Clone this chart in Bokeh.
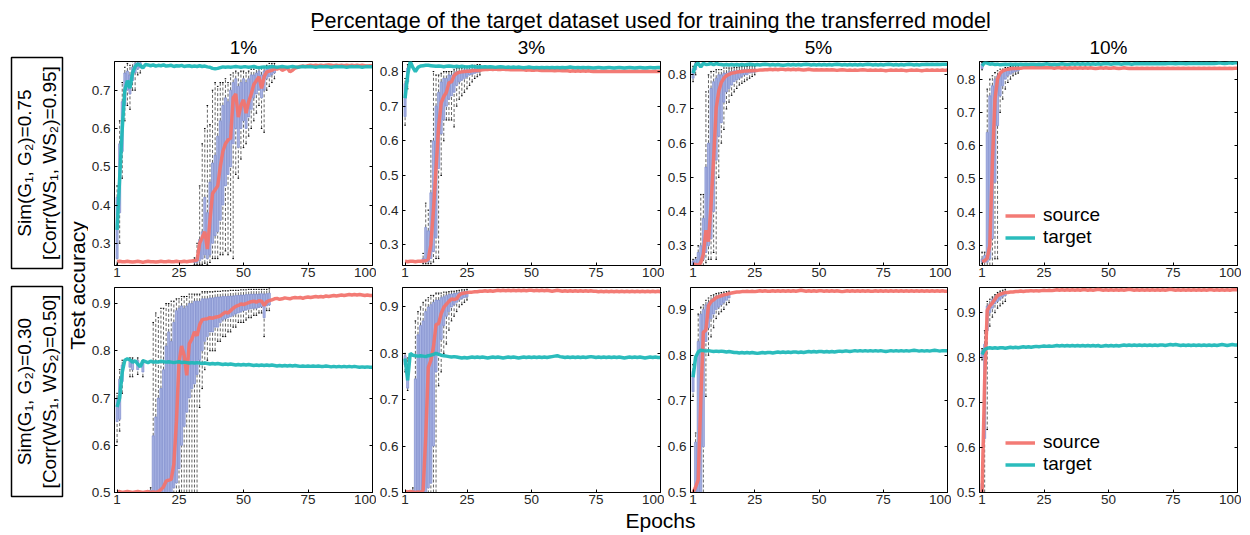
import math
from bokeh.plotting import figure
from bokeh.layouts import row, column
from bokeh.models import Range1d, LinearAxis, FixedTicker, CustomJSTickFormatter, Legend, LegendItem
from bokeh.core.properties import value
from bokeh.embed import file_html
from bokeh.resources import INLINE

# ---------------- data ----------------
EPOCHS = list(range(1, 101))
X_TICKS = [1, 25, 50, 75, 100]
COL_TITLES = ["1%", "3%", "5%", "10%"]
TITLE = "Percentage of the target dataset used for training the transferred model"
ROW_LABELS = ["Sim(G\u2081, G\u2082)=0.75\n[Corr(WS\u2081, WS\u2082)=0.95]",
              "Sim(G\u2081, G\u2082)=0.30\n[Corr(WS\u2081, WS\u2082)=0.50]"]
Y_LABEL = "Test accuracy"
X_LABEL = "Epochs"
SERIES_NAMES = ["source", "target"]

R1_YLIMS = [(0.242, 0.775), (0.240, 0.829), (0.242, 0.839), (0.240, 0.853)]
R2_YLIMS = [(0.500, 0.934), (0.500, 0.942), (0.500, 0.948), (0.500, 0.956)]
R1_YTICKS = [[0.3, 0.4, 0.5, 0.6, 0.7], [0.3, 0.4, 0.5, 0.6, 0.7, 0.8],
             [0.3, 0.4, 0.5, 0.6, 0.7, 0.8], [0.3, 0.4, 0.5, 0.6, 0.7, 0.8]]
R2_YTICKS = [[0.5, 0.6, 0.7, 0.8, 0.9]] * 4

# ---- row 1 (Sim 0.75), 1% ----
R1C1_SRC = [0.252, 0.253, 0.252, 0.252, 0.253, 0.252, 0.251, 0.252, 0.253, 0.252,
            0.250, 0.252, 0.253, 0.252, 0.252, 0.251, 0.252, 0.253, 0.252, 0.252,
            0.253, 0.252, 0.252, 0.253, 0.252, 0.252, 0.253, 0.252, 0.253, 0.254,
            0.255, 0.256, 0.300, 0.315, 0.330, 0.285, 0.360, 0.430, 0.440, 0.450,
            0.500, 0.540, 0.560, 0.570, 0.575, 0.680, 0.690, 0.630, 0.660, 0.675,
            0.640, 0.670, 0.690, 0.715, 0.725, 0.735, 0.705, 0.735, 0.748, 0.750,
            0.752, 0.757, 0.755, 0.758, 0.752, 0.755, 0.758, 0.748, 0.752, 0.758,
            0.760, 0.762, 0.763, 0.762, 0.764, 0.765, 0.764, 0.765, 0.764, 0.765,
            0.764, 0.765, 0.766, 0.765, 0.764, 0.765, 0.764, 0.765, 0.764, 0.765,
            0.764, 0.765, 0.764, 0.765, 0.764, 0.765, 0.764, 0.763, 0.764, 0.764]
R1C1_TGT = [0.335, 0.470, 0.600, 0.700, 0.725, 0.705, 0.745, 0.762, 0.768, 0.765,
            0.758, 0.767, 0.766, 0.764, 0.766, 0.763, 0.765, 0.764, 0.766, 0.763,
            0.764, 0.765, 0.762, 0.764, 0.763, 0.765, 0.762, 0.763, 0.764, 0.762,
            0.763, 0.762, 0.764, 0.762, 0.763, 0.761, 0.760, 0.757, 0.756, 0.757,
            0.759, 0.761, 0.760, 0.761, 0.760, 0.761, 0.762, 0.761, 0.760, 0.761,
            0.761, 0.760, 0.761, 0.762, 0.760, 0.759, 0.760, 0.761, 0.760, 0.761,
            0.762, 0.761, 0.760, 0.761, 0.762, 0.761, 0.760, 0.761, 0.762, 0.761,
            0.760, 0.761, 0.762, 0.761, 0.761, 0.762, 0.761, 0.760, 0.761, 0.762,
            0.761, 0.762, 0.761, 0.760, 0.761, 0.762, 0.761, 0.762, 0.761, 0.760,
            0.761, 0.762, 0.761, 0.762, 0.761, 0.760, 0.761, 0.762, 0.761, 0.761]
# (epoch, q1, q3, whisker low, whisker high)
R1C1_SRC_BOX = [(31, 0.250, 0.256, 0.245, 0.262), (32, 0.250, 0.262, 0.245, 0.300),
                (33, 0.255, 0.310, 0.245, 0.450), (34, 0.260, 0.330, 0.245, 0.560),
                (35, 0.270, 0.420, 0.248, 0.600), (36, 0.260, 0.380, 0.245, 0.660),
                (37, 0.270, 0.460, 0.250, 0.610), (38, 0.300, 0.510, 0.260, 0.700),
                (39, 0.320, 0.530, 0.260, 0.720), (40, 0.330, 0.580, 0.260, 0.710),
                (41, 0.360, 0.620, 0.270, 0.720), (42, 0.400, 0.660, 0.270, 0.720),
                (43, 0.450, 0.680, 0.280, 0.730), (44, 0.480, 0.670, 0.270, 0.720),
                (45, 0.500, 0.700, 0.280, 0.740), (46, 0.560, 0.720, 0.260, 0.745),
                (47, 0.600, 0.730, 0.480, 0.750), (48, 0.550, 0.710, 0.470, 0.745),
                (49, 0.600, 0.720, 0.520, 0.750), (50, 0.620, 0.730, 0.550, 0.750),
                (51, 0.600, 0.720, 0.560, 0.745), (52, 0.630, 0.730, 0.580, 0.750),
                (53, 0.650, 0.740, 0.600, 0.755), (54, 0.680, 0.740, 0.620, 0.755),
                (55, 0.690, 0.745, 0.640, 0.760), (56, 0.700, 0.750, 0.660, 0.760),
                (57, 0.680, 0.740, 0.600, 0.760), (58, 0.700, 0.750, 0.590, 0.760),
                (59, 0.730, 0.755, 0.700, 0.765), (60, 0.735, 0.758, 0.710, 0.770),
                (61, 0.740, 0.760, 0.720, 0.770), (62, 0.745, 0.762, 0.730, 0.770)]
R1C1_TGT_BOX = [(1, 0.260, 0.420, 0.245, 0.450), (2, 0.380, 0.560, 0.300, 0.620),
                (3, 0.540, 0.670, 0.470, 0.720), (4, 0.660, 0.745, 0.620, 0.760),
                (5, 0.700, 0.750, 0.660, 0.770), (6, 0.690, 0.740, 0.650, 0.765),
                (7, 0.725, 0.760, 0.700, 0.775), (8, 0.745, 0.770, 0.700, 0.775),
                (9, 0.755, 0.772, 0.740, 0.775), (10, 0.758, 0.772, 0.745, 0.775)]

# ---- row 1, 3% ----
R1C2_SRC = [0.252, 0.251, 0.252, 0.252, 0.251, 0.252, 0.252, 0.253, 0.254, 0.258,
            0.300, 0.400, 0.520, 0.640, 0.710, 0.728, 0.740, 0.768, 0.770, 0.788,
            0.795, 0.798, 0.799, 0.800, 0.801, 0.801, 0.802, 0.803, 0.803, 0.804,
            0.805, 0.806, 0.806, 0.807, 0.806, 0.807, 0.806, 0.806, 0.807, 0.806,
            0.806, 0.805, 0.806, 0.805, 0.806, 0.805, 0.805, 0.804, 0.805, 0.804,
            0.804, 0.805, 0.804, 0.803, 0.804, 0.803, 0.804, 0.803, 0.802, 0.803,
            0.803, 0.802, 0.803, 0.802, 0.801, 0.802, 0.801, 0.802, 0.801, 0.802,
            0.801, 0.802, 0.801, 0.800, 0.801, 0.800, 0.801, 0.800, 0.801, 0.800,
            0.800, 0.801, 0.800, 0.801, 0.800, 0.801, 0.800, 0.801, 0.800, 0.800,
            0.801, 0.800, 0.801, 0.800, 0.801, 0.800, 0.800, 0.801, 0.800, 0.801]
R1C2_TGT = [0.723, 0.790, 0.829, 0.812, 0.800, 0.812, 0.816, 0.817, 0.818, 0.818,
            0.817, 0.816, 0.815, 0.816, 0.815, 0.814, 0.815, 0.816, 0.815, 0.814,
            0.815, 0.814, 0.815, 0.814, 0.813, 0.814, 0.815, 0.814, 0.813, 0.814,
            0.813, 0.814, 0.813, 0.814, 0.813, 0.812, 0.813, 0.814, 0.813, 0.812,
            0.813, 0.812, 0.813, 0.812, 0.813, 0.812, 0.811, 0.812, 0.813, 0.812,
            0.811, 0.812, 0.811, 0.812, 0.811, 0.812, 0.811, 0.812, 0.811, 0.812,
            0.811, 0.812, 0.811, 0.812, 0.813, 0.812, 0.811, 0.812, 0.811, 0.812,
            0.811, 0.812, 0.811, 0.810, 0.811, 0.812, 0.811, 0.810, 0.811, 0.812,
            0.811, 0.810, 0.811, 0.812, 0.811, 0.810, 0.811, 0.812, 0.811, 0.810,
            0.811, 0.812, 0.811, 0.810, 0.811, 0.812, 0.811, 0.811, 0.812, 0.812]
R1C2_SRC_BOX = [(8, 0.250, 0.260, 0.245, 0.275), (9, 0.250, 0.350, 0.245, 0.420),
                (10, 0.250, 0.340, 0.245, 0.400), (11, 0.260, 0.450, 0.245, 0.600),
                (12, 0.280, 0.600, 0.250, 0.800), (13, 0.320, 0.700, 0.260, 0.790),
                (14, 0.520, 0.740, 0.260, 0.790), (15, 0.620, 0.770, 0.500, 0.795),
                (16, 0.660, 0.780, 0.600, 0.800), (17, 0.700, 0.780, 0.660, 0.800),
                (18, 0.720, 0.790, 0.660, 0.800), (19, 0.730, 0.790, 0.660, 0.800),
                (20, 0.740, 0.795, 0.640, 0.805), (21, 0.760, 0.800, 0.700, 0.810),
                (22, 0.770, 0.800, 0.720, 0.810), (23, 0.775, 0.800, 0.730, 0.810),
                (24, 0.780, 0.805, 0.740, 0.815), (25, 0.785, 0.805, 0.750, 0.815),
                (26, 0.790, 0.806, 0.760, 0.815), (27, 0.792, 0.807, 0.770, 0.818),
                (28, 0.795, 0.808, 0.780, 0.818), (29, 0.797, 0.808, 0.785, 0.820),
                (30, 0.800, 0.810, 0.790, 0.820)]
R1C2_TGT_BOX = [(1, 0.670, 0.765, 0.645, 0.780), (2, 0.770, 0.810, 0.750, 0.820)]

# ---- row 1, 5% ----
R1C3_SRC = [0.246, 0.245, 0.243, 0.250, 0.275, 0.345, 0.312, 0.420, 0.556, 0.703,
            0.752, 0.778, 0.790, 0.798, 0.801, 0.805, 0.806, 0.808, 0.809, 0.810,
            0.811, 0.811, 0.812, 0.812, 0.813, 0.813, 0.814, 0.814, 0.815, 0.815,
            0.816, 0.815, 0.816, 0.815, 0.816, 0.816, 0.815, 0.816, 0.815, 0.816,
            0.815, 0.816, 0.815, 0.814, 0.815, 0.816, 0.815, 0.814, 0.815, 0.814,
            0.815, 0.814, 0.815, 0.814, 0.815, 0.814, 0.813, 0.814, 0.815, 0.814,
            0.813, 0.814, 0.813, 0.814, 0.813, 0.814, 0.815, 0.814, 0.813, 0.814,
            0.813, 0.814, 0.813, 0.814, 0.813, 0.812, 0.813, 0.814, 0.813, 0.814,
            0.813, 0.814, 0.813, 0.812, 0.813, 0.814, 0.813, 0.814, 0.813, 0.812,
            0.813, 0.814, 0.813, 0.814, 0.813, 0.814, 0.813, 0.814, 0.813, 0.814]
R1C3_TGT = [0.805, 0.829, 0.834, 0.823, 0.834, 0.830, 0.831, 0.833, 0.830, 0.833,
            0.831, 0.830, 0.829, 0.830, 0.829, 0.830, 0.829, 0.830, 0.829, 0.830,
            0.829, 0.830, 0.831, 0.830, 0.829, 0.830, 0.829, 0.830, 0.831, 0.830,
            0.829, 0.830, 0.829, 0.830, 0.829, 0.828, 0.829, 0.830, 0.829, 0.830,
            0.829, 0.830, 0.829, 0.830, 0.831, 0.830, 0.829, 0.830, 0.829, 0.830,
            0.829, 0.830, 0.829, 0.830, 0.829, 0.830, 0.831, 0.830, 0.829, 0.830,
            0.829, 0.830, 0.829, 0.830, 0.829, 0.830, 0.829, 0.830, 0.831, 0.830,
            0.829, 0.830, 0.829, 0.830, 0.829, 0.830, 0.831, 0.830, 0.829, 0.830,
            0.829, 0.830, 0.829, 0.830, 0.831, 0.830, 0.829, 0.830, 0.829, 0.830,
            0.830, 0.831, 0.830, 0.831, 0.830, 0.831, 0.830, 0.831, 0.831, 0.831]
R1C3_SRC_BOX = [(1, 0.243, 0.255, 0.240, 0.260), (2, 0.243, 0.260, 0.240, 0.265),
                (3, 0.240, 0.280, 0.240, 0.300), (4, 0.250, 0.300, 0.240, 0.450),
                (5, 0.260, 0.380, 0.240, 0.450), (6, 0.280, 0.530, 0.250, 0.750),
                (7, 0.300, 0.600, 0.260, 0.800), (8, 0.320, 0.760, 0.260, 0.810),
                (9, 0.400, 0.780, 0.280, 0.810), (10, 0.550, 0.790, 0.260, 0.815),
                (11, 0.620, 0.800, 0.500, 0.815), (12, 0.660, 0.800, 0.600, 0.815),
                (13, 0.720, 0.805, 0.640, 0.820), (14, 0.750, 0.805, 0.700, 0.820),
                (15, 0.760, 0.810, 0.720, 0.820), (16, 0.770, 0.810, 0.740, 0.820),
                (17, 0.780, 0.812, 0.750, 0.822), (18, 0.785, 0.812, 0.760, 0.822),
                (19, 0.790, 0.813, 0.770, 0.823), (20, 0.795, 0.814, 0.775, 0.824),
                (21, 0.800, 0.815, 0.780, 0.825), (22, 0.800, 0.815, 0.785, 0.825),
                (23, 0.805, 0.816, 0.790, 0.826), (24, 0.806, 0.816, 0.795, 0.826),
                (25, 0.808, 0.817, 0.800, 0.826)]
R1C3_TGT_BOX = [(1, 0.790, 0.818, 0.780, 0.825), (2, 0.815, 0.835, 0.800, 0.838)]

# ---- row 1, 10% ----
R1C4_SRC = [0.252, 0.254, 0.262, 0.300, 0.550, 0.740, 0.800, 0.818, 0.825, 0.828,
            0.830, 0.831, 0.832, 0.832, 0.833, 0.833, 0.834, 0.834, 0.834, 0.834,
            0.835, 0.834, 0.835, 0.834, 0.835, 0.834, 0.835, 0.834, 0.833, 0.834,
            0.834, 0.833, 0.834, 0.833, 0.834, 0.833, 0.834, 0.833, 0.834, 0.833,
            0.834, 0.833, 0.834, 0.833, 0.832, 0.833, 0.834, 0.833, 0.834, 0.833,
            0.833, 0.834, 0.833, 0.832, 0.833, 0.834, 0.833, 0.832, 0.833, 0.832,
            0.833, 0.832, 0.833, 0.832, 0.833, 0.832, 0.833, 0.832, 0.833, 0.832,
            0.833, 0.832, 0.833, 0.832, 0.833, 0.832, 0.833, 0.832, 0.833, 0.832,
            0.833, 0.832, 0.833, 0.832, 0.833, 0.832, 0.833, 0.832, 0.833, 0.832,
            0.833, 0.832, 0.833, 0.832, 0.833, 0.832, 0.833, 0.832, 0.833, 0.833]
R1C4_TGT = [0.840, 0.850, 0.848, 0.845, 0.846, 0.844, 0.845, 0.843, 0.844, 0.845,
            0.844, 0.845, 0.844, 0.845, 0.844, 0.845, 0.844, 0.845, 0.844, 0.845,
            0.845, 0.844, 0.845, 0.844, 0.845, 0.846, 0.845, 0.844, 0.845, 0.844,
            0.845, 0.846, 0.845, 0.844, 0.845, 0.846, 0.845, 0.846, 0.845, 0.846,
            0.845, 0.846, 0.845, 0.846, 0.845, 0.846, 0.845, 0.846, 0.847, 0.846,
            0.845, 0.846, 0.847, 0.846, 0.845, 0.846, 0.847, 0.846, 0.845, 0.846,
            0.847, 0.846, 0.847, 0.846, 0.847, 0.846, 0.847, 0.846, 0.847, 0.846,
            0.847, 0.846, 0.847, 0.848, 0.847, 0.846, 0.847, 0.848, 0.847, 0.846,
            0.847, 0.848, 0.847, 0.848, 0.847, 0.848, 0.847, 0.848, 0.847, 0.848,
            0.847, 0.848, 0.849, 0.848, 0.847, 0.848, 0.849, 0.848, 0.849, 0.849]
R1C4_SRC_BOX = [(1, 0.250, 0.260, 0.245, 0.280), (2, 0.250, 0.270, 0.240, 0.280),
                (3, 0.250, 0.640, 0.240, 0.770), (4, 0.260, 0.750, 0.240, 0.800),
                (5, 0.320, 0.780, 0.240, 0.810), (6, 0.490, 0.800, 0.260, 0.820),
                (7, 0.660, 0.810, 0.260, 0.825), (8, 0.750, 0.815, 0.700, 0.830),
                (9, 0.780, 0.820, 0.740, 0.830), (10, 0.800, 0.825, 0.770, 0.835),
                (11, 0.810, 0.828, 0.790, 0.835), (12, 0.815, 0.830, 0.800, 0.838),
                (13, 0.820, 0.832, 0.810, 0.840), (14, 0.823, 0.833, 0.815, 0.840),
                (15, 0.825, 0.834, 0.818, 0.840)]
R1C4_TGT_BOX = [(1, 0.832, 0.846, 0.828, 0.850)]

# ---- row 2 (Sim 0.30), 1% ----
R2C1_SRC = [0.501, 0.502, 0.500, 0.501, 0.502, 0.501, 0.500, 0.501, 0.502, 0.501,
            0.500, 0.501, 0.502, 0.500, 0.501, 0.500, 0.502, 0.506, 0.512, 0.524,
            0.526, 0.528, 0.560, 0.650, 0.775, 0.810, 0.790, 0.748, 0.815, 0.825,
            0.840, 0.832, 0.855, 0.866, 0.867, 0.868, 0.870, 0.869, 0.871, 0.872,
            0.874, 0.878, 0.882, 0.880, 0.885, 0.890, 0.894, 0.896, 0.899, 0.898,
            0.900, 0.902, 0.904, 0.905, 0.903, 0.906, 0.905, 0.896, 0.904, 0.906,
            0.908, 0.910, 0.911, 0.909, 0.910, 0.912, 0.911, 0.910, 0.912, 0.913,
            0.912, 0.913, 0.911, 0.913, 0.914, 0.913, 0.914, 0.915, 0.914, 0.915,
            0.914, 0.916, 0.915, 0.916, 0.917, 0.916, 0.917, 0.918, 0.917, 0.918,
            0.919, 0.918, 0.919, 0.918, 0.919, 0.918, 0.917, 0.918, 0.917, 0.917]
R2C1_TGT = [0.681, 0.700, 0.755, 0.780, 0.783, 0.781, 0.776, 0.779, 0.772, 0.766,
            0.779, 0.777, 0.775, 0.778, 0.776, 0.777, 0.776, 0.778, 0.777, 0.776,
            0.777, 0.776, 0.775, 0.776, 0.777, 0.775, 0.776, 0.775, 0.774, 0.775,
            0.774, 0.775, 0.774, 0.773, 0.774, 0.773, 0.772, 0.773, 0.772, 0.773,
            0.772, 0.771, 0.772, 0.771, 0.772, 0.771, 0.770, 0.771, 0.770, 0.771,
            0.770, 0.771, 0.770, 0.769, 0.770, 0.769, 0.770, 0.769, 0.770, 0.769,
            0.770, 0.769, 0.768, 0.769, 0.768, 0.769, 0.768, 0.769, 0.768, 0.769,
            0.768, 0.767, 0.768, 0.767, 0.768, 0.767, 0.768, 0.767, 0.768, 0.767,
            0.767, 0.768, 0.767, 0.766, 0.767, 0.766, 0.767, 0.766, 0.767, 0.766,
            0.767, 0.766, 0.767, 0.766, 0.765, 0.766, 0.765, 0.766, 0.765, 0.765]
R2C1_SRC_BOX = [(14, 0.500, 0.505, 0.498, 0.510), (15, 0.500, 0.620, 0.498, 0.860),
                (16, 0.500, 0.660, 0.498, 0.880), (17, 0.500, 0.700, 0.498, 0.870),
                (18, 0.500, 0.720, 0.498, 0.890), (19, 0.500, 0.760, 0.498, 0.890),
                (20, 0.500, 0.810, 0.498, 0.900), (21, 0.500, 0.840, 0.498, 0.900),
                (22, 0.500, 0.820, 0.498, 0.905), (23, 0.510, 0.860, 0.498, 0.905),
                (24, 0.520, 0.885, 0.498, 0.910), (25, 0.550, 0.890, 0.498, 0.910),
                (26, 0.600, 0.895, 0.500, 0.915), (27, 0.640, 0.890, 0.500, 0.915),
                (28, 0.670, 0.895, 0.500, 0.915), (29, 0.700, 0.900, 0.500, 0.920),
                (30, 0.720, 0.900, 0.500, 0.920), (31, 0.730, 0.905, 0.500, 0.920),
                (32, 0.750, 0.905, 0.500, 0.920), (33, 0.780, 0.905, 0.680, 0.920),
                (34, 0.800, 0.910, 0.720, 0.925), (35, 0.820, 0.910, 0.760, 0.925),
                (36, 0.830, 0.910, 0.780, 0.925), (37, 0.840, 0.912, 0.800, 0.925),
                (38, 0.840, 0.912, 0.800, 0.925), (39, 0.850, 0.913, 0.800, 0.926),
                (40, 0.850, 0.914, 0.820, 0.926), (41, 0.860, 0.914, 0.820, 0.926),
                (42, 0.865, 0.915, 0.830, 0.927), (43, 0.868, 0.915, 0.830, 0.927),
                (44, 0.870, 0.915, 0.840, 0.927), (45, 0.872, 0.916, 0.840, 0.928),
                (46, 0.875, 0.916, 0.850, 0.928), (47, 0.878, 0.917, 0.850, 0.928),
                (48, 0.880, 0.917, 0.860, 0.928), (49, 0.882, 0.918, 0.860, 0.929),
                (50, 0.885, 0.918, 0.860, 0.929), (51, 0.886, 0.919, 0.865, 0.929),
                (52, 0.888, 0.919, 0.870, 0.930), (53, 0.889, 0.920, 0.870, 0.930),
                (54, 0.890, 0.920, 0.875, 0.930), (55, 0.890, 0.920, 0.875, 0.930),
                (56, 0.892, 0.920, 0.880, 0.930), (57, 0.893, 0.921, 0.880, 0.930),
                (58, 0.870, 0.920, 0.830, 0.930), (59, 0.895, 0.921, 0.885, 0.930),
                (60, 0.897, 0.922, 0.885, 0.931)]
R2C1_TGT_BOX = [(1, 0.650, 0.700, 0.607, 0.710), (2, 0.655, 0.740, 0.630, 0.760),
                (3, 0.735, 0.770, 0.710, 0.780), (6, 0.765, 0.782, 0.745, 0.785),
                (7, 0.760, 0.780, 0.745, 0.785), (9, 0.760, 0.780, 0.750, 0.785),
                (11, 0.755, 0.775, 0.745, 0.780)]

# ---- row 2, 3% ----
R2C2_SRC = [0.502, 0.501, 0.502, 0.501, 0.500, 0.501, 0.500, 0.505, 0.620, 0.770,
            0.785, 0.814, 0.862, 0.864, 0.886, 0.899, 0.906, 0.912, 0.917, 0.916,
            0.918, 0.926, 0.929, 0.930, 0.931, 0.932, 0.932, 0.933, 0.933, 0.934,
            0.934, 0.935, 0.934, 0.935, 0.934, 0.935, 0.936, 0.935, 0.936, 0.935,
            0.936, 0.935, 0.936, 0.935, 0.936, 0.935, 0.936, 0.935, 0.936, 0.936,
            0.935, 0.936, 0.935, 0.936, 0.935, 0.936, 0.935, 0.934, 0.935, 0.936,
            0.935, 0.934, 0.935, 0.934, 0.935, 0.934, 0.935, 0.934, 0.935, 0.934,
            0.935, 0.934, 0.935, 0.934, 0.934, 0.933, 0.934, 0.933, 0.934, 0.933,
            0.934, 0.933, 0.934, 0.933, 0.934, 0.933, 0.934, 0.933, 0.934, 0.933,
            0.934, 0.933, 0.934, 0.933, 0.934, 0.933, 0.934, 0.933, 0.934, 0.933]
R2C2_TGT = [0.789, 0.742, 0.800, 0.796, 0.795, 0.794, 0.795, 0.794, 0.793, 0.795,
            0.796, 0.798, 0.800, 0.798, 0.796, 0.795, 0.794, 0.793, 0.792, 0.793,
            0.792, 0.791, 0.790, 0.791, 0.790, 0.791, 0.792, 0.791, 0.792, 0.791,
            0.792, 0.791, 0.790, 0.791, 0.792, 0.791, 0.792, 0.791, 0.790, 0.791,
            0.792, 0.791, 0.792, 0.791, 0.790, 0.791, 0.792, 0.791, 0.792, 0.791,
            0.792, 0.791, 0.792, 0.791, 0.792, 0.791, 0.792, 0.793, 0.794, 0.795,
            0.793, 0.792, 0.791, 0.792, 0.791, 0.792, 0.791, 0.792, 0.791, 0.792,
            0.791, 0.792, 0.793, 0.792, 0.791, 0.792, 0.791, 0.792, 0.791, 0.792,
            0.791, 0.792, 0.791, 0.792, 0.791, 0.790, 0.791, 0.792, 0.791, 0.792,
            0.791, 0.792, 0.791, 0.790, 0.791, 0.792, 0.791, 0.792, 0.791, 0.791]
R2C2_SRC_BOX = [(4, 0.500, 0.505, 0.498, 0.510), (5, 0.500, 0.745, 0.498, 0.870),
                (6, 0.500, 0.840, 0.498, 0.890), (7, 0.500, 0.860, 0.498, 0.900),
                (8, 0.500, 0.870, 0.498, 0.910), (9, 0.500, 0.890, 0.498, 0.915),
                (10, 0.510, 0.900, 0.498, 0.920), (11, 0.520, 0.905, 0.498, 0.925),
                (12, 0.600, 0.910, 0.500, 0.925), (13, 0.760, 0.915, 0.500, 0.930),
                (14, 0.800, 0.915, 0.730, 0.930), (15, 0.830, 0.920, 0.760, 0.930),
                (16, 0.860, 0.922, 0.800, 0.932), (17, 0.880, 0.925, 0.820, 0.932),
                (18, 0.890, 0.927, 0.850, 0.933), (19, 0.900, 0.928, 0.870, 0.934),
                (20, 0.905, 0.929, 0.880, 0.934), (21, 0.910, 0.930, 0.890, 0.935),
                (22, 0.915, 0.931, 0.900, 0.936), (23, 0.918, 0.932, 0.905, 0.937),
                (24, 0.920, 0.933, 0.910, 0.937), (25, 0.922, 0.934, 0.915, 0.938)]
R2C2_TGT_BOX = [(1, 0.775, 0.795, 0.760, 0.800), (2, 0.725, 0.770, 0.720, 0.790)]

# ---- row 2, 5% ----
R2C3_SRC = [0.500, 0.512, 0.528, 0.700, 0.850, 0.855, 0.908, 0.917, 0.921, 0.926,
            0.928, 0.930, 0.932, 0.933, 0.935, 0.936, 0.937, 0.938, 0.938, 0.939,
            0.939, 0.940, 0.939, 0.940, 0.939, 0.940, 0.941, 0.940, 0.941, 0.940,
            0.940, 0.941, 0.940, 0.941, 0.940, 0.941, 0.940, 0.941, 0.940, 0.941,
            0.940, 0.941, 0.942, 0.941, 0.940, 0.941, 0.940, 0.941, 0.940, 0.941,
            0.941, 0.940, 0.941, 0.940, 0.941, 0.940, 0.941, 0.940, 0.939, 0.940,
            0.941, 0.940, 0.941, 0.940, 0.941, 0.940, 0.941, 0.940, 0.941, 0.940,
            0.940, 0.941, 0.940, 0.941, 0.940, 0.941, 0.940, 0.941, 0.940, 0.941,
            0.940, 0.941, 0.940, 0.941, 0.940, 0.941, 0.940, 0.941, 0.940, 0.941,
            0.940, 0.941, 0.940, 0.941, 0.940, 0.941, 0.940, 0.941, 0.940, 0.940]
R2C3_TGT = [0.752, 0.796, 0.807, 0.811, 0.810, 0.809, 0.810, 0.809, 0.808, 0.809,
            0.808, 0.809, 0.808, 0.807, 0.808, 0.807, 0.806, 0.806, 0.805, 0.806,
            0.805, 0.806, 0.805, 0.806, 0.805, 0.804, 0.805, 0.806, 0.805, 0.806,
            0.806, 0.805, 0.806, 0.807, 0.806, 0.807, 0.806, 0.807, 0.806, 0.807,
            0.807, 0.806, 0.807, 0.806, 0.807, 0.808, 0.807, 0.808, 0.807, 0.808,
            0.808, 0.807, 0.808, 0.807, 0.808, 0.807, 0.808, 0.809, 0.808, 0.809,
            0.809, 0.808, 0.809, 0.810, 0.809, 0.810, 0.809, 0.810, 0.809, 0.810,
            0.809, 0.810, 0.809, 0.810, 0.809, 0.808, 0.809, 0.810, 0.809, 0.810,
            0.809, 0.810, 0.809, 0.810, 0.809, 0.810, 0.811, 0.810, 0.809, 0.810,
            0.809, 0.810, 0.809, 0.810, 0.811, 0.810, 0.809, 0.810, 0.810, 0.810]
R2C3_SRC_BOX = [(2, 0.500, 0.610, 0.498, 0.630), (3, 0.500, 0.830, 0.498, 0.890),
                (4, 0.500, 0.890, 0.498, 0.905), (5, 0.600, 0.900, 0.500, 0.910),
                (6, 0.830, 0.910, 0.710, 0.920), (7, 0.860, 0.915, 0.800, 0.925),
                (8, 0.880, 0.920, 0.840, 0.930), (9, 0.890, 0.925, 0.860, 0.932),
                (10, 0.900, 0.928, 0.880, 0.935), (11, 0.905, 0.930, 0.890, 0.936),
                (12, 0.910, 0.932, 0.895, 0.937), (13, 0.915, 0.933, 0.900, 0.938),
                (14, 0.920, 0.934, 0.910, 0.939), (15, 0.925, 0.936, 0.915, 0.940)]
R2C3_TGT_BOX = [(1, 0.720, 0.765, 0.710, 0.780)]

# ---- row 2, 10% ----
R2C4_SRC = [0.500, 0.750, 0.905, 0.915, 0.922, 0.930, 0.938, 0.941, 0.943, 0.945,
            0.945, 0.946, 0.946, 0.947, 0.947, 0.948, 0.947, 0.948, 0.948, 0.949,
            0.948, 0.949, 0.948, 0.949, 0.950, 0.949, 0.950, 0.949, 0.950, 0.951,
            0.950, 0.951, 0.950, 0.951, 0.950, 0.951, 0.950, 0.951, 0.950, 0.951,
            0.951, 0.950, 0.951, 0.950, 0.951, 0.952, 0.951, 0.950, 0.951, 0.950,
            0.951, 0.950, 0.951, 0.950, 0.951, 0.950, 0.951, 0.952, 0.951, 0.950,
            0.951, 0.950, 0.951, 0.950, 0.951, 0.950, 0.951, 0.950, 0.951, 0.950,
            0.951, 0.950, 0.951, 0.952, 0.951, 0.950, 0.951, 0.950, 0.951, 0.950,
            0.951, 0.950, 0.951, 0.950, 0.951, 0.950, 0.951, 0.950, 0.951, 0.951,
            0.950, 0.951, 0.950, 0.951, 0.950, 0.951, 0.950, 0.951, 0.951, 0.951]
R2C4_TGT = [0.807, 0.818, 0.821, 0.822, 0.821, 0.822, 0.821, 0.822, 0.822, 0.821,
            0.822, 0.823, 0.822, 0.823, 0.822, 0.823, 0.824, 0.823, 0.824, 0.823,
            0.824, 0.825, 0.824, 0.825, 0.826, 0.825, 0.826, 0.825, 0.826, 0.827,
            0.826, 0.827, 0.826, 0.827, 0.826, 0.827, 0.826, 0.827, 0.826, 0.827,
            0.826, 0.827, 0.826, 0.827, 0.826, 0.827, 0.825, 0.826, 0.827, 0.826,
            0.827, 0.826, 0.827, 0.826, 0.827, 0.828, 0.827, 0.828, 0.827, 0.828,
            0.827, 0.828, 0.827, 0.828, 0.827, 0.828, 0.827, 0.828, 0.827, 0.828,
            0.828, 0.827, 0.828, 0.829, 0.828, 0.829, 0.828, 0.827, 0.828, 0.827,
            0.828, 0.827, 0.828, 0.827, 0.828, 0.827, 0.828, 0.827, 0.828, 0.827,
            0.828, 0.827, 0.828, 0.829, 0.828, 0.827, 0.828, 0.829, 0.828, 0.828]
R2C4_SRC_BOX = [(1, 0.490, 0.520, 0.480, 0.550), (2, 0.620, 0.830, 0.500, 0.860),
                (3, 0.860, 0.915, 0.640, 0.925), (4, 0.900, 0.920, 0.870, 0.930),
                (5, 0.910, 0.930, 0.890, 0.935), (6, 0.920, 0.935, 0.900, 0.940),
                (7, 0.925, 0.940, 0.910, 0.945), (8, 0.930, 0.943, 0.915, 0.948),
                (9, 0.935, 0.945, 0.920, 0.950), (10, 0.938, 0.947, 0.925, 0.952)]
R2C4_TGT_BOX = [(1, 0.800, 0.815, 0.795, 0.820)]

for _name, _lst in [("R1C1_SRC", R1C1_SRC), ("R1C1_TGT", R1C1_TGT), ("R1C2_SRC", R1C2_SRC),
                    ("R1C2_TGT", R1C2_TGT), ("R1C3_SRC", R1C3_SRC), ("R1C3_TGT", R1C3_TGT),
                    ("R1C4_SRC", R1C4_SRC), ("R1C4_TGT", R1C4_TGT), ("R2C1_SRC", R2C1_SRC),
                    ("R2C1_TGT", R2C1_TGT), ("R2C2_SRC", R2C2_SRC), ("R2C2_TGT", R2C2_TGT),
                    ("R2C3_SRC", R2C3_SRC), ("R2C3_TGT", R2C3_TGT), ("R2C4_SRC", R2C4_SRC),
                    ("R2C4_TGT", R2C4_TGT)]:
    assert len(_lst) == 100, (_name, len(_lst))

# ---------------- style / layout ----------------
FONT = "Liberation Sans"
SRC_COLOR = "#F2746E"
TGT_COLOR = "#20B8B8"
BOX_FILL = "#9AA7DE"
BOX_LINE = "#7080C8"
TICK_COLOR = "#262626"

FRAME_W = 258
LEFT_W = 88
COL_L = [26, 26, 25, 28]
COL_R = [4, 4, 4, 4]
HDR_H = 59
ROW_T = [2, 4]
ROW_FRAME_H = [204, 205]
ROW_B = [18, 14]
FTR_H = 29


def style_axis(ax, standoff):
    ax.axis_line_color = "black"
    ax.axis_line_width = 1
    ax.major_tick_in = 3
    ax.major_tick_out = 0
    ax.major_tick_line_color = "black"
    ax.minor_tick_line_color = None
    ax.major_label_text_font = FONT
    ax.major_label_text_font_size = "13.5px"
    ax.major_label_text_color = TICK_COLOR
    ax.major_label_standoff = standoff


def draw_boxes(p, rows):
    e = [r[0] for r in rows]
    q1 = [r[1] for r in rows]
    q3 = [r[2] for r in rows]
    lo = [r[3] for r in rows]
    hi = [r[4] for r in rows]
    p.segment(x0=e, y0=lo, x1=e, y1=q1, line_color="#3c3c3c", line_width=0.8, line_dash="3 2")
    p.segment(x0=e, y0=q3, x1=e, y1=hi, line_color="#3c3c3c", line_width=0.8, line_dash="3 2")
    p.vbar(x=e, width=0.8, bottom=q1, top=q3, fill_color=BOX_FILL, fill_alpha=0.85,
           line_color=BOX_LINE, line_width=0.6)
    el = [x - 0.3 for x in e]
    er = [x + 0.3 for x in e]
    p.segment(x0=el, y0=lo, x1=er, y1=lo, line_color="black", line_width=1)
    p.segment(x0=el, y0=hi, x1=er, y1=hi, line_color="black", line_width=1)


def make_panel(ri, ci, src, tgt, src_box, tgt_box, ylim, yticks, legend):
    L, R = COL_L[ci], COL_R[ci]
    T, H, B = ROW_T[ri], ROW_FRAME_H[ri], ROW_B[ri]
    p = figure(width=L + FRAME_W + R, height=T + H + B,
               x_range=Range1d(0, 100), y_range=Range1d(*ylim),
               output_backend="svg", toolbar_location=None,
               min_border_left=L, min_border_right=R, min_border_top=T, min_border_bottom=B)
    p.xgrid.visible = False
    p.ygrid.visible = False
    p.outline_line_color = "black"
    p.outline_line_width = 1
    p.background_fill_color = "white"
    p.border_fill_color = "white"
    p.xaxis.ticker = FixedTicker(ticks=X_TICKS)
    p.yaxis.ticker = FixedTicker(ticks=yticks)
    style_axis(p.xaxis[0], 2)
    style_axis(p.yaxis[0], 4)
    rax = LinearAxis(ticker=FixedTicker(ticks=yticks), formatter=CustomJSTickFormatter(code="return ''"))
    style_axis(rax, 0)
    p.add_layout(rax, "right")

    draw_boxes(p, src_box)
    draw_boxes(p, tgt_box)
    rs = p.line(EPOCHS, src, line_color=SRC_COLOR, line_width=3.5, line_alpha=0.95)
    rt = p.line(EPOCHS, tgt, line_color=TGT_COLOR, line_width=3.5, line_alpha=0.95)
    if legend:
        leg = Legend(items=[LegendItem(label=SERIES_NAMES[0], renderers=[rs]),
                            LegendItem(label=SERIES_NAMES[1], renderers=[rt])],
                     location=(26, 17), orientation="vertical", padding=0, margin=0, spacing=0,
                     glyph_width=30, glyph_height=19, label_height=19, label_standoff=8,
                     label_text_font=FONT, label_text_font_size="19px", label_text_color="black",
                     border_line_color=None, background_fill_alpha=0)
        p.add_layout(leg)
    return p


SRCS = [[R1C1_SRC, R1C2_SRC, R1C3_SRC, R1C4_SRC], [R2C1_SRC, R2C2_SRC, R2C3_SRC, R2C4_SRC]]
TGTS = [[R1C1_TGT, R1C2_TGT, R1C3_TGT, R1C4_TGT], [R2C1_TGT, R2C2_TGT, R2C3_TGT, R2C4_TGT]]
SBOX = [[R1C1_SRC_BOX, R1C2_SRC_BOX, R1C3_SRC_BOX, R1C4_SRC_BOX],
        [R2C1_SRC_BOX, R2C2_SRC_BOX, R2C3_SRC_BOX, R2C4_SRC_BOX]]
TBOX = [[R1C1_TGT_BOX, R1C2_TGT_BOX, R1C3_TGT_BOX, R1C4_TGT_BOX],
        [R2C1_TGT_BOX, R2C2_TGT_BOX, R2C3_TGT_BOX, R2C4_TGT_BOX]]
YLIMS = [R1_YLIMS, R2_YLIMS]
YTICKS = [R1_YTICKS, R2_YTICKS]

rows = []
for ri in range(2):
    figs = [make_panel(ri, ci, SRCS[ri][ci], TGTS[ri][ci], SBOX[ri][ci], TBOX[ri][ci],
                       YLIMS[ri][ci], YTICKS[ri][ci], ci == 3) for ci in range(4)]
    rows.append(row(*figs, spacing=0))
grid = column(*rows, spacing=0)

RIGHT_W = sum(COL_L) + sum(COL_R) + 4 * FRAME_W
GRID_H = sum(ROW_T) + sum(ROW_FRAME_H) + sum(ROW_B)


def blank(w, h):
    f = figure(width=w, height=h, x_range=Range1d(0, w), y_range=Range1d(h, 0),
               x_axis_type=None, y_axis_type=None, output_backend="svg",
               toolbar_location=None, min_border=0)
    f.grid.visible = False
    f.outline_line_color = None
    f.background_fill_color = "white"
    f.border_fill_color = "white"
    return f


# header: title (underlined) and column titles
hdr = blank(RIGHT_W, HDR_H)
title_cx = 650 - LEFT_W
hdr.text(x=[title_cx], y=[20], text=[TITLE], text_font=value(FONT), text_font_size="21.6px",
         text_align="center", text_baseline="middle", text_color="black")
hdr.segment(x0=[title_cx - 337], y0=[30], x1=[title_cx + 337], y1=[30], line_color="black", line_width=1.2)
col_cx = []
acc = 0
for ci in range(4):
    col_cx.append(acc + COL_L[ci] + FRAME_W / 2)
    acc += COL_L[ci] + FRAME_W + COL_R[ci]
hdr.text(x=col_cx, y=[47] * 4, text=COL_TITLES, text_font=value(FONT), text_font_size="19px",
         text_align="center", text_baseline="middle", text_color="black")

# left strip: row labels in boxes and y-axis label
left = blank(LEFT_W, HDR_H + GRID_H)
left.quad(left=[11, 11], right=[62, 62], top=[57, 286], bottom=[268, 496],
          fill_color=None, line_color="black", line_width=1.5)
left.text(x=[36.5, 36.5], y=[162.5, 391], text=ROW_LABELS, angle=math.pi / 2,
          text_font=value(FONT), text_font_size="19px", text_align="center",
          text_baseline="middle", text_color="black", text_line_height=1.2)
left.text(x=[77], y=[285], text=[Y_LABEL], angle=math.pi / 2, text_font=value(FONT),
          text_font_size="21px", text_align="center", text_baseline="middle", text_color="black")

# footer: x-axis label
ftr = blank(LEFT_W + RIGHT_W, FTR_H)
ftr.text(x=[660], y=[14], text=[X_LABEL], text_font=value(FONT), text_font_size="21px",
         text_align="center", text_baseline="middle", text_color="black")

layout = column(row(left, column(hdr, grid, spacing=0), spacing=0), ftr, spacing=0)

open("out.html", "w").write(file_html(layout, INLINE))
